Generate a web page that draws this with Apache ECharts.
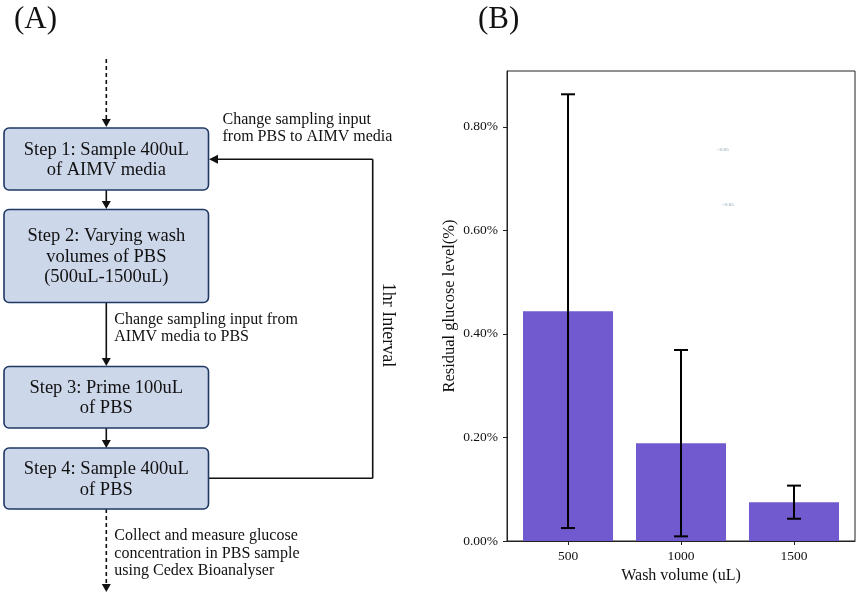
<!DOCTYPE html>
<html><head><meta charset="utf-8">
<script src="https://cdn.jsdelivr.net/npm/echarts@6/dist/echarts.min.js"></script>
<style>html,body{margin:0;padding:0;background:#fff}#c{width:858px;height:594px}</style>
</head><body><div id="c"></div>
<script>
// ---- Data (panel B) ----
const washVolumes = [500, 1000, 1500];
const washLabels = ['500', '1000', '1500'];
const residualGlucose = [0.444, 0.189, 0.075];      // % mean
const errorHalfWidth = [0.419, 0.180, 0.032];       // % +/- error
const yTickValues = [0, 0.2, 0.4, 0.6, 0.8];
const xAxisTitle = 'Wash volume (uL)';
const yAxisTitle = 'Residual glucose level(%)';

// ---- Text (panel A) ----
const stepTexts = [
  'Step 1: Sample 400uL\nof AIMV media',
  'Step 2: Varying wash\nvolumes of PBS\n(500uL-1500uL)',
  'Step 3: Prime 100uL\nof PBS',
  'Step 4: Sample 400uL\nof PBS'
];
const loopNote = 'Change sampling input\nfrom PBS to AIMV media';
const midNote = 'Change sampling input from\nAIMV media to PBS';
const endNote = 'Collect and measure glucose\nconcentration in PBS sample\nusing Cedex Bioanalyser';
const intervalNote = '1hr Interval';

const SERIF = '"Liberation Serif","Times New Roman",serif';
const INK = '#111';

// box layout (top, bottom)
const boxes = [[128, 190], [209.5, 302.5], [366.5, 428], [448, 509]];
const BX = 4, BW = 204.5, CX = 106.3;

const g = [];
boxes.forEach((b, i) => {
  g.push({type: 'rect', shape: {x: BX, y: b[0], width: BW, height: b[1] - b[0], r: 5},
    style: {fill: '#CDD7EA', stroke: '#1F3864', lineWidth: 1.6}, z: 10});
  g.push({type: 'text', x: CX, y: (b[0] + b[1]) / 2 + 1, z: 11,
    style: {text: stepTexts[i], fontSize: 18.5, fontFamily: SERIF, fill: INK,
      align: 'center', verticalAlign: 'middle', lineHeight: 20.5}});
});
function line(x1, y1, x2, y2, dash) {
  g.push({type: 'line', shape: {x1, y1, x2, y2}, z: 9,
    style: {stroke: INK, lineWidth: 1.6, lineDash: dash ? [4, 3] : null}});
}
function headDown(x, y) {
  g.push({type: 'polygon', shape: {points: [[x - 4.5, y - 8], [x + 4.5, y - 8], [x, y]]}, style: {fill: INK}, z: 12});
}
function headLeft(x, y) {
  g.push({type: 'polygon', shape: {points: [[x + 9, y - 4.5], [x + 9, y + 4.5], [x, y]]}, style: {fill: INK}, z: 12});
}
// top dashed arrow
line(CX, 59, CX, 121, true); headDown(CX, 127);
// 1 -> 2
line(CX, 190, CX, 203); headDown(CX, 209);
// 2 -> 3
line(CX, 302.5, CX, 360); headDown(CX, 366);
// 3 -> 4
line(CX, 428, CX, 442); headDown(CX, 448);
// bottom dashed arrow
line(CX, 509, CX, 584, true); headDown(CX, 592);
// loop
line(208.5, 478.3, 372.7, 478.3);
line(372.7, 478.3, 372.7, 159.3);
line(372.7, 159.3, 216, 159.3); headLeft(209, 159.3);

function note(txt, x, y) {
  g.push({type: 'text', x, y, z: 11, style: {text: txt, fontSize: 16, fontFamily: SERIF, fill: INK,
    align: 'left', verticalAlign: 'middle', lineHeight: 17.3}});
}
note(loopNote, 222.5, 128.5);
note(midNote, 114.3, 328.5);
note(endNote, 114.3, 553.5);
g.push({type: 'text', x: 388, y: 325, rotation: -Math.PI / 2, z: 11,
  style: {text: intervalNote, fontSize: 18, fontFamily: SERIF, fill: INK, align: 'center', verticalAlign: 'middle'}});

// panel labels
g.push({type: 'text', x: 14, y: 19.5, style: {text: '(A)', fontSize: 31, fontFamily: SERIF, fill: INK, align: 'left', verticalAlign: 'middle'}});
g.push({type: 'text', x: 478, y: 19.5, style: {text: '(B)', fontSize: 31, fontFamily: SERIF, fill: INK, align: 'left', verticalAlign: 'middle'}});
// tiny faint annotations inside plot
g.push({type: 'text', x: 723, y: 150, style: {text: '<0.05', fontSize: 5, fontFamily: SERIF, fill: '#7a9aa8', align: 'center', verticalAlign: 'middle'}});
g.push({type: 'text', x: 728, y: 205, style: {text: '<0.05', fontSize: 5, fontFamily: SERIF, fill: '#7a9aa8', align: 'center', verticalAlign: 'middle'}});

const chart = echarts.init(document.getElementById('c'), null, {renderer: 'canvas'});
chart.setOption({
  animation: false,
  backgroundColor: '#fff',
  graphic: g,
  grid: {left: 507, top: 71, width: 348, height: 470, show: true, borderColor: '#222', borderWidth: 1, backgroundColor: 'transparent'},
  xAxis: {
    type: 'value', min: 230, max: 1770,
    axisLine: {show: true, onZero: false, lineStyle: {color: '#222', width: 1}},
    splitLine: {show: false},
    axisTick: {show: true, length: 4, customValues: washVolumes, lineStyle: {color: '#222'}},
    axisLabel: {customValues: washVolumes, margin: 8, fontSize: 13.5, fontFamily: SERIF, color: INK,
      formatter: v => washLabels[washVolumes.indexOf(v)]},
    name: xAxisTitle, nameLocation: 'middle', nameGap: 26,
    nameTextStyle: {fontSize: 16, fontFamily: SERIF, color: INK}
  },
  yAxis: {
    type: 'value', min: 0, max: 0.908,
    axisLine: {show: true, lineStyle: {color: '#222', width: 1}},
    splitLine: {show: false},
    axisTick: {show: true, length: 4, customValues: yTickValues, lineStyle: {color: '#222'}},
    axisLabel: {customValues: yTickValues, margin: 9, fontSize: 13.5, fontFamily: SERIF, color: INK,
      formatter: v => v.toFixed(2) + '%'},
    name: yAxisTitle, nameLocation: 'middle', nameGap: 49,
    nameTextStyle: {fontSize: 16.5, fontFamily: SERIF, color: INK}
  },
  series: [
    {
      type: 'bar', barWidth: 90,
      data: washVolumes.map((x, i) => [x, residualGlucose[i]]),
      itemStyle: {color: '#7159CF'}
    },
    {
      type: 'custom', z: 5,
      data: washVolumes.map((x, i) => [x, residualGlucose[i] - errorHalfWidth[i], residualGlucose[i] + errorHalfWidth[i]]),
      encode: {x: 0, y: [1, 2]},
      renderItem: (params, api) => {
        const lo = api.coord([api.value(0), api.value(1)]);
        const hi = api.coord([api.value(0), api.value(2)]);
        const cw = 7;
        const st = {stroke: '#000', lineWidth: 2};
        return {type: 'group', children: [
          {type: 'line', shape: {x1: lo[0], y1: lo[1], x2: hi[0], y2: hi[1]}, style: st},
          {type: 'line', shape: {x1: lo[0] - cw, y1: lo[1], x2: lo[0] + cw, y2: lo[1]}, style: st},
          {type: 'line', shape: {x1: hi[0] - cw, y1: hi[1], x2: hi[0] + cw, y2: hi[1]}, style: st}
        ]};
      }
    }
  ]
});
</script></body></html>
